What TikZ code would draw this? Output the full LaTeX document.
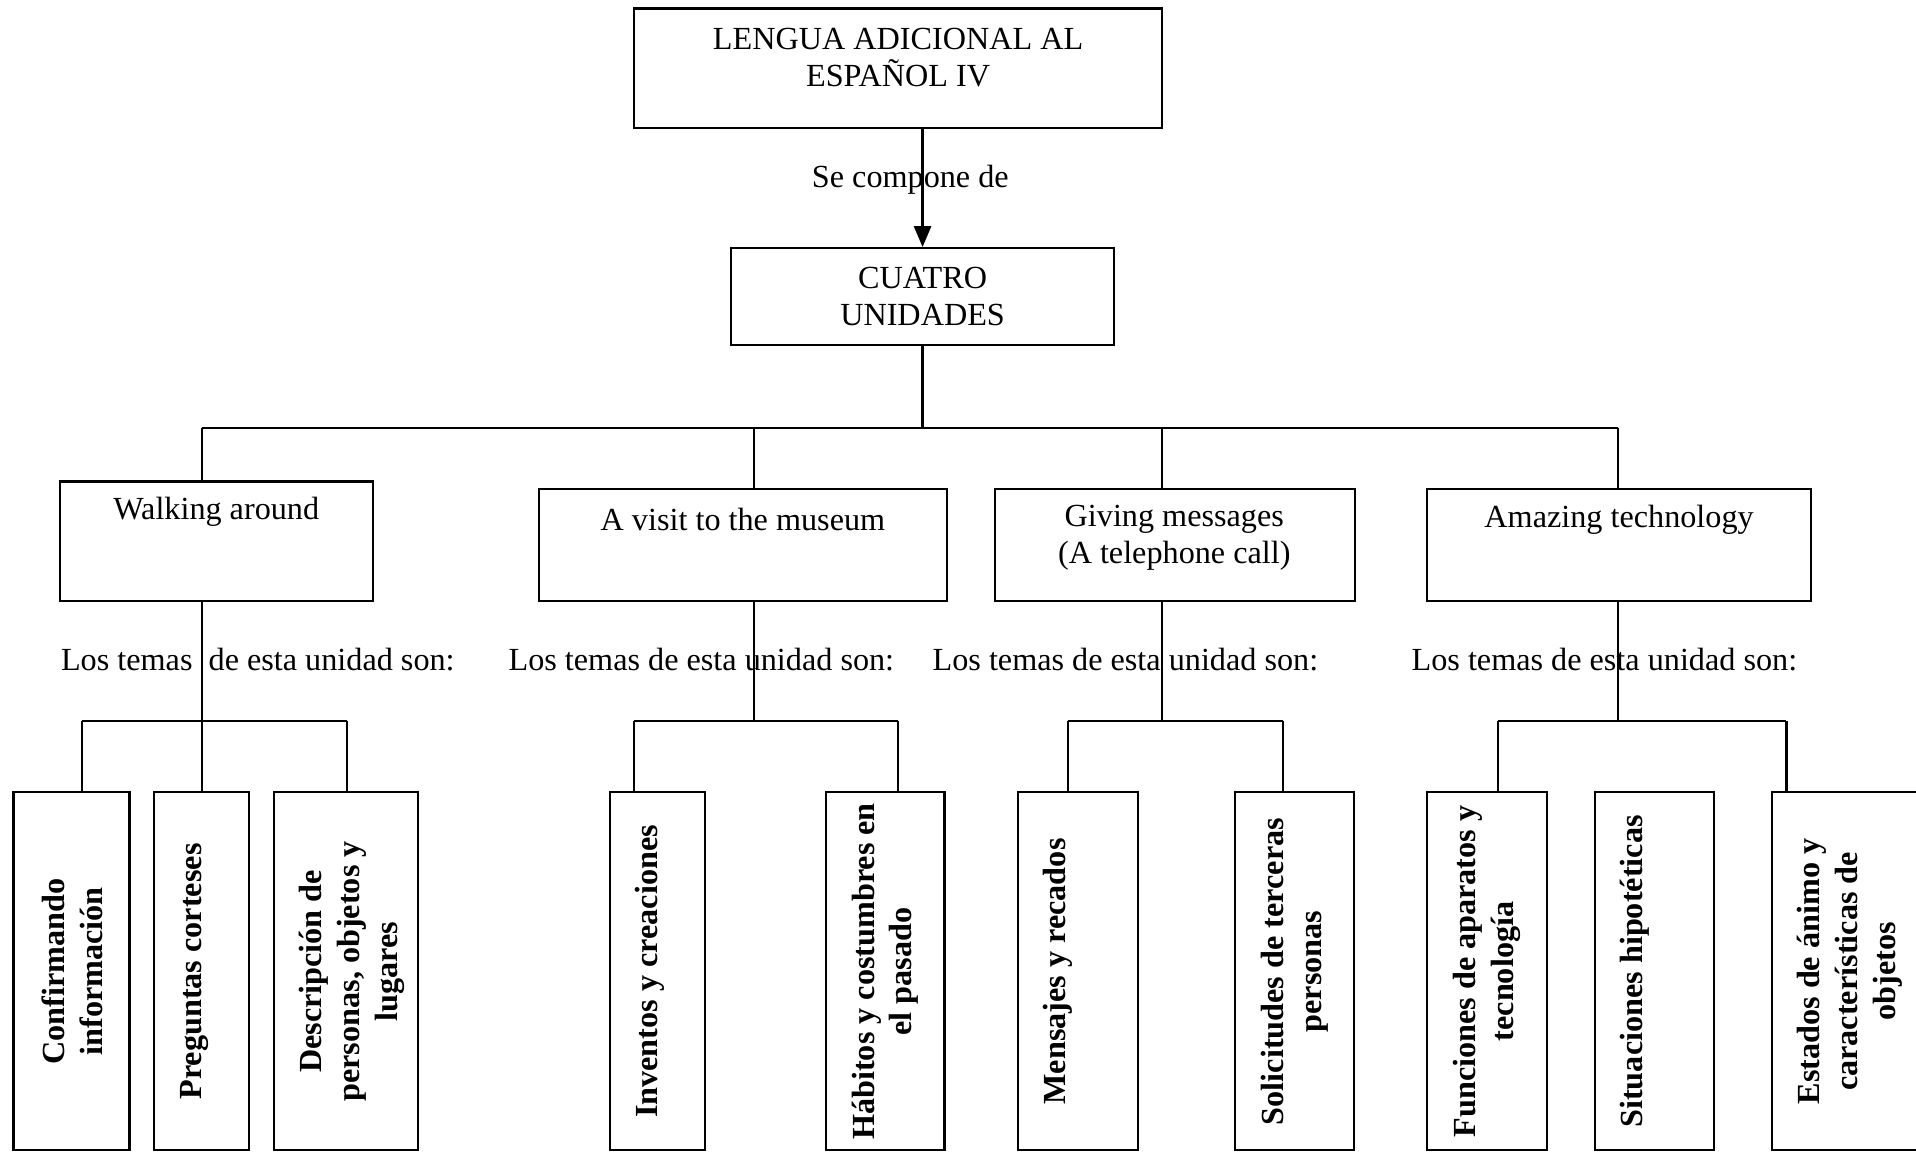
\documentclass[tikz,border=0pt]{standalone}
\usepackage{fontspec}
\setmainfont{Liberation Serif}
\usetikzlibrary{arrows.meta}

\begin{document}
\begin{tikzpicture}[x=0.1mm,y=-0.1mm,line width=0.5pt,
	caja/.style={draw,inner sep=0pt},
	texto/.style={align=center,inner sep=0pt,font=\fontsize{7.5}{8.6}\selectfont},
	tema/.style={align=center,inner sep=0pt,rotate=90,font=\fontsize{7.5}{8.8}\selectfont\bfseries}]

\useasboundingbox (0,0) rectangle (1568,942);

\def\alto{29.3mm}

\node[caja,minimum width=43.2mm,minimum height=9.8mm] (lengua) at (735,56) {};
\node[texto] (lengua-t) at (735,47) {LENGUA ADICIONAL AL\\ESPAÑOL IV};
\node[texto] (compone) at (745,147) {Se compone de};
\node[caja,texto,minimum width=31.4mm,minimum height=7.9mm] (cuatro) at (755,242.5) {CUATRO\\UNIDADES};

\draw[-{Triangle[length=1.7mm,width=1.4mm]}] (lengua.south -| cuatro.north) -- (cuatro.north);

% unidades
\node[caja,minimum width=25.6mm,minimum height=9.8mm] (walk) at (177,443) {};
\node[caja,minimum width=33.4mm,minimum height=9.2mm] (museo) at (608,446) {};
\node[caja,minimum width=29.5mm,minimum height=9.2mm] (giving) at (961.5,446) {};
\node[caja,minimum width=31.4mm,minimum height=9.2mm] (tecno) at (1325,446) {};

\node[texto] (walk-t) at (177,419) {Walking around};
\node[texto] (museo-t) at (608,425) {A visit to the museum};
\node[texto] (giving-t) at (961,440) {Giving messages\\(A telephone call)};
\node[texto] (tecno-t) at (1325,425) {Amazing technology};

\node[texto] (temas1) at (211,540) {Los temas\ \ de esta unidad son:};
\node[texto] (temas2) at (574,540) {Los temas de esta unidad son:};
\node[texto] (temas3) at (921,540) {Los temas de esta unidad son:};
\node[texto] (temas4) at (1313,540) {Los temas de esta unidad son:};

% temas
\foreach \n/\x/\w in {conf/58.5/9.5,preg/165/7.8,desc/283/11.8,inv/538/7.8,hab/724.5/9.7,mens/882/9.8,soli/1059.5/9.7,func/1217/9.8,situ/1354/9.8,esta/1517.5/13.5}
	\node[caja,minimum width=\w mm,minimum height=\alto] (\n) at (\x,794.5) {};

\node[tema] (conf-t) at (59.5,795) {Confirmando\\información};
\node[tema] (preg-t) at (159,795) {Preguntas corteses};
\node[tema] (desc-t) at (288,795) {Descripción de\\personas, objetos y\\lugares};
\node[tema] (inv-t) at (532,795) {Inventos y creaciones};
\node[tema] (hab-t) at (724.5,795) {Hábitos y costumbres en\\el pasado};
\node[tema] (mens-t) at (866,795) {Mensajes y recados};
\node[tema] (soli-t) at (1059.5,795) {Solicitudes de terceras\\personas};
\node[tema] (func-t) at (1216.5,795) {Funciones de aparatos y\\tecnología};
\node[tema] (situ-t) at (1338,795) {Situaciones hipotéticas};
\node[tema] (esta-t) at (1514,795) {Estados de ánimo y\\características de\\objetos};

% lineas
\coordinate (bus) at (755,350);
\coordinate (u1) at (165,350);
\coordinate (u2) at (617,350);
\coordinate (u3) at (951,350);
\coordinate (u4) at (1324,350);
\draw (cuatro.south) -- (bus);
\draw (u1) -- (u4);

\coordinate (v1) at (165,590);
\coordinate (v2) at (617,590);
\coordinate (v3) at (951,590);
\coordinate (v4) at (1324,590);

\foreach \u/\v/\b in {u1/v1/walk,u2/v2/museo,u3/v3/giving,u4/v4/tecno}{
	\draw (\u) -- (\u |- \b.north);
	\draw (\v |- \b.south) -- (\v);
}

\foreach \x/\b in {67/conf,165/preg,284/desc,519/inv,735/hab,874/mens,1050/soli,1226/func,1462/esta}{
	\coordinate (k-\b) at (\x,590);
	\draw (k-\b) -- (k-\b |- \b.north);
}

\draw (k-conf) -- (k-desc);
\draw (k-inv) -- (k-hab);
\draw (k-mens) -- (k-soli);
\draw (k-func) -- (k-esta);

\end{tikzpicture}
\end{document}
